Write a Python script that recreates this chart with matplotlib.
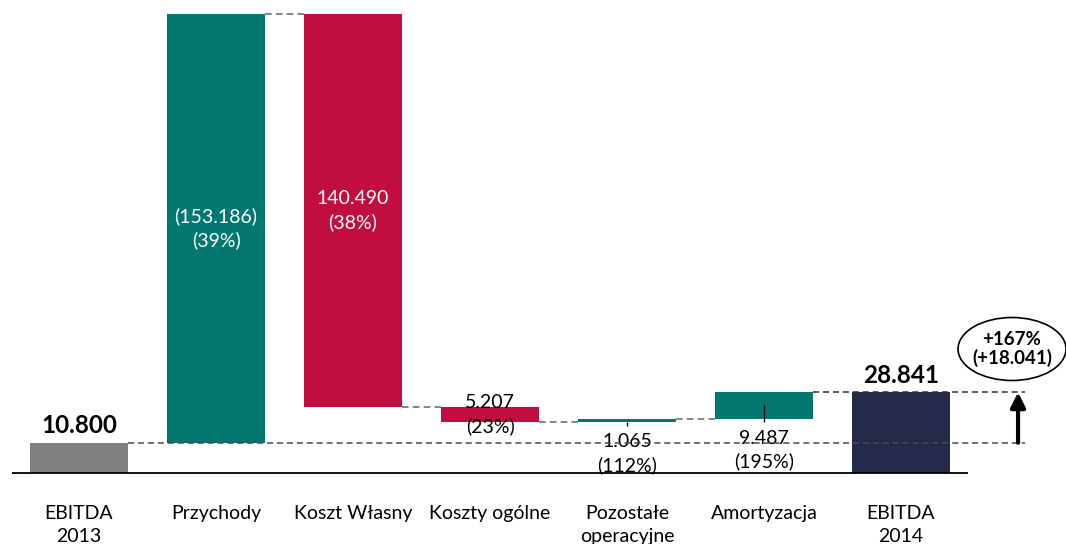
import matplotlib.pyplot as plt
from matplotlib.patches import Ellipse

plt.rcParams['font.family'] = ['Lato', 'DejaVu Sans']

# waterfall data (thousands)
categories = ['EBITDA\n2013', 'Przychody', 'Koszt Własny', 'Koszty ogólne',
              'Pozostałe\noperacyjne', 'Amortyzacja', 'EBITDA\n2014']
changes = [10.800, 153.186, -140.490, -5.207, 1.065, 9.487, 28.841]
kinds = ['total', 'up', 'down', 'down', 'up', 'up', 'total']
value_labels = ['10.800', '(153.186)\n(39%)', '140.490\n(38%)', '5.207\n(23%)',
                '1.065\n(112%)', '9.487\n(195%)', '28.841']
growth_label = '+167%\n(+18.041)'

colors = {'total_start': '#808080', 'total_end': '#262A4A',
          'up': '#037870', 'down': '#C20E3E'}

# running levels
bottoms, tops = [], []
level = 0.0
for ch, k in zip(changes, kinds):
    if k == 'total':
        b, t = 0.0, ch
        level = ch
    else:
        b, t = sorted([level, level + ch])
        level = level + ch
    bottoms.append(b)
    tops.append(t)

fig = plt.figure(figsize=(10.66, 5.44), dpi=100)
ax = fig.add_axes([0, 0, 1, 1])
ax.set_xlim(-0.577, 7.204)
ax.set_ylim(-25.37, 169.0)
ax.axis('off')

w = 0.715
n = len(categories)
fs = 14
for i, (b, t, k) in enumerate(zip(bottoms, tops, kinds)):
    if k == 'total':
        c = colors['total_start'] if i == 0 else colors['total_end']
    else:
        c = colors[k]
    ax.bar(i, t - b, bottom=b, width=w, color=c, zorder=2)

# baseline
ax.hlines(0, -0.49, n - 1 + 0.49, color='black', lw=1.3, zorder=3)

# connectors
dash = (0, (4, 2.5))
running = [tops[0], tops[1], bottoms[2], bottoms[3], tops[4], tops[5]]
for i in range(1, 5):
    ax.hlines(running[i], i + w / 2, i + 1 - w / 2, color='#6f6f6f', lw=1.2,
              linestyles=dash, zorder=1)

# start / end reference lines and arrow
xa = 6.854
ax.hlines(changes[0], w / 2, 6.905, color='#4a4a4a', lw=1.1, linestyles=dash, zorder=4)
ax.hlines(changes[-1], 5 + w / 2, 6.905, color='#303030', lw=1.1, linestyles=dash, zorder=4)
ax.annotate('', xy=(xa, changes[-1]), xytext=(xa, changes[0]),
            arrowprops=dict(arrowstyle='-|>', lw=3, color='black',
                            mutation_scale=22, shrinkA=0, shrinkB=0), zorder=5)
ax.add_patch(Ellipse((6.81, 44.3), 108 / 137, 63 / 2.799, fill=False,
                     edgecolor='black', lw=1.2, zorder=5))
ax.text(6.81, 44.3, growth_label, ha='center', va='center', fontsize=13.5,
        fontweight='bold', linespacing=1.1, zorder=6)

# value labels
for i in [0, 6]:
    ax.annotate(value_labels[i], (i, tops[i]), xytext=(0, 4), textcoords='offset points',
                ha='center', va='bottom', fontsize=17.5, fontweight='bold')
for i in [1, 2]:
    ax.text(i, (bottoms[i] + tops[i]) / 2, value_labels[i], ha='center', va='center',
            color='white', fontsize=fs, linespacing=1.4, zorder=3)
ax.text(3, (bottoms[3] + tops[3]) / 2, value_labels[3], ha='center', va='center',
        color='black', fontsize=fs, linespacing=1.4, zorder=3)
# labels below small bars with leader lines
ax.text(4, 7.0, value_labels[4], ha='center', va='center', fontsize=fs,
        linespacing=1.4, zorder=3)
ax.vlines(4, bottoms[4] - 1.5, bottoms[4], color='black', lw=1, zorder=3)
ax.text(5, 8.2, value_labels[5], ha='center', va='center', fontsize=fs,
        linespacing=1.4, zorder=3)
ax.vlines(5, bottoms[5] - 1.0, bottoms[5] + 5.0, color='black', lw=1, zorder=3)

# category labels
for i, cat in enumerate(categories):
    ax.text(i, -11.4, cat, ha='center', va='top', fontsize=fs, linespacing=1.45)

fig.savefig('out.png', dpi=100)
